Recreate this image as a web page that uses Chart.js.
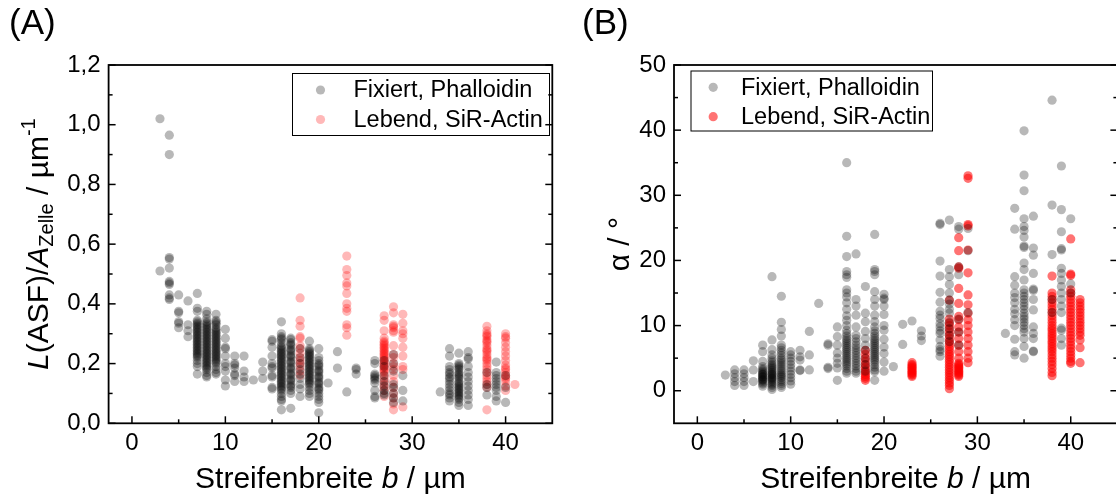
<!DOCTYPE html>
<html>
<head>
<meta charset="utf-8">
<script src="https://cdn.jsdelivr.net/npm/chart.js@4.4.1/dist/chart.umd.min.js"></script>
<style>
  html, body { margin: 0; padding: 0; background: #fff; overflow: hidden; width: 1116px; height: 497px; }
  canvas { position: absolute; top: 0; }
  #chartA { left: 0; }
  #chartB { left: 560px; }
</style>
</head>
<body>
<canvas id="chartA" width="560" height="497"></canvas>
<canvas id="chartB" width="562" height="497"></canvas>
<script>
// series names
const seriesLabels = ['Fixiert, Phalloidin', 'Lebend, SiR-Actin'];

// tick labels
const xTickVals = [0, 10, 20, 30, 40];
const yTickValsA = [0, 0.2, 0.4, 0.6, 0.8, 1.0, 1.2];
const yTickValsB = [0, 10, 20, 30, 40, 50];

// (A) fixed cells: stripe width columns and L(ASF)/A values per column
const fixA_x = [3, 4, 5, 6, 7, 8, 9, 10, 11, 12, 13, 14, 15, 16, 17, 18, 19, 20, 21, 22, 23, 24, 26, 27, 28, 29, 33, 34, 35, 36, 38, 39, 40];
const fixA_y = [
  [1.02, 0.51],
  [0.965, 0.90, 0.555, 0.55, 0.52, 0.475, 0.47, 0.465, 0.43, 0.42, 0.415],
  [0.43, 0.375, 0.37, 0.34, 0.335, 0.32],
  [0.41, 0.33, 0.31, 0.29],
  [0.435, 0.385, 0.375, 0.345, 0.34, 0.335, 0.33, 0.325, 0.32, 0.315, 0.31, 0.305, 0.30, 0.295, 0.29, 0.285, 0.28, 0.275, 0.27, 0.265, 0.26, 0.255, 0.25, 0.245, 0.24, 0.235, 0.23, 0.225, 0.22, 0.21, 0.20, 0.19, 0.165],
  [0.375, 0.365, 0.35, 0.34, 0.335, 0.33, 0.325, 0.32, 0.315, 0.31, 0.305, 0.30, 0.295, 0.29, 0.285, 0.28, 0.275, 0.27, 0.265, 0.26, 0.255, 0.25, 0.245, 0.24, 0.235, 0.23, 0.225, 0.22, 0.215, 0.21, 0.205, 0.20, 0.195, 0.19, 0.185, 0.18, 0.17, 0.16, 0.155],
  [0.365, 0.345, 0.34, 0.335, 0.33, 0.32, 0.315, 0.31, 0.305, 0.30, 0.295, 0.29, 0.285, 0.28, 0.275, 0.27, 0.265, 0.26, 0.255, 0.25, 0.245, 0.24, 0.235, 0.23, 0.225, 0.22, 0.215, 0.21, 0.205, 0.20, 0.19, 0.18, 0.17, 0.165],
  [0.315, 0.285, 0.255, 0.25, 0.225, 0.20, 0.19, 0.175, 0.145, 0.125],
  [0.225, 0.20, 0.195, 0.185, 0.165, 0.16, 0.14],
  [0.225, 0.175, 0.155, 0.14],
  [0.145],
  [0.205, 0.175, 0.15],
  [0.28, 0.275, 0.255, 0.225, 0.20, 0.19, 0.185, 0.16, 0.155, 0.12, 0.115],
  [0.34, 0.30, 0.29, 0.285, 0.28, 0.27, 0.26, 0.255, 0.25, 0.245, 0.24, 0.235, 0.23, 0.225, 0.22, 0.215, 0.21, 0.205, 0.20, 0.195, 0.19, 0.185, 0.18, 0.175, 0.17, 0.165, 0.16, 0.155, 0.15, 0.145, 0.14, 0.135, 0.13, 0.125, 0.12, 0.115, 0.11, 0.10, 0.09, 0.08, 0.075, 0.045],
  [0.285, 0.28, 0.27, 0.265, 0.26, 0.25, 0.245, 0.24, 0.23, 0.225, 0.22, 0.21, 0.205, 0.20, 0.19, 0.185, 0.18, 0.17, 0.165, 0.16, 0.15, 0.145, 0.14, 0.13, 0.125, 0.12, 0.11, 0.10, 0.05],
  [0.25, 0.22, 0.20, 0.18, 0.165, 0.15, 0.13, 0.115, 0.09],
  [0.275, 0.25, 0.245, 0.24, 0.235, 0.23, 0.225, 0.22, 0.215, 0.21, 0.205, 0.20, 0.195, 0.19, 0.185, 0.18, 0.175, 0.17, 0.165, 0.16, 0.155, 0.15, 0.145, 0.14, 0.135, 0.13, 0.12, 0.11, 0.10, 0.09],
  [0.25, 0.22, 0.21, 0.20, 0.195, 0.19, 0.18, 0.175, 0.17, 0.16, 0.155, 0.15, 0.14, 0.135, 0.13, 0.12, 0.115, 0.11, 0.10, 0.09, 0.08, 0.07, 0.035],
  [0.135],
  [0.24, 0.185],
  [0.105],
  [0.185, 0.18, 0.165],
  [0.21, 0.20, 0.165, 0.16, 0.155, 0.15, 0.145, 0.135, 0.11, 0.09, 0.085],
  [0.21, 0.19, 0.16, 0.14, 0.125, 0.11, 0.10, 0.095],
  [0.23, 0.20, 0.175, 0.13, 0.12, 0.10, 0.085, 0.07],
  [0.16, 0.11, 0.075],
  [0.105],
  [0.25, 0.225, 0.19, 0.18, 0.17, 0.165, 0.155, 0.15, 0.14, 0.13, 0.12, 0.11, 0.10, 0.095, 0.085, 0.075],
  [0.235, 0.20, 0.195, 0.19, 0.185, 0.18, 0.17, 0.165, 0.16, 0.155, 0.15, 0.14, 0.135, 0.13, 0.125, 0.12, 0.115, 0.11, 0.105, 0.10, 0.095, 0.09, 0.085, 0.08, 0.07, 0.06],
  [0.24, 0.22, 0.215, 0.19, 0.17, 0.155, 0.14, 0.125, 0.11, 0.095, 0.08, 0.06],
  [0.17, 0.13, 0.12, 0.095],
  [0.205, 0.17, 0.16, 0.15, 0.14, 0.13, 0.12, 0.11, 0.09, 0.075],
  [0.16, 0.12, 0.07]
];

// (A) living cells
const liveA_x = [18, 23, 27, 28, 29, 38, 40, 41];
const liveA_y = [
  [0.42, 0.345, 0.325, 0.29, 0.285, 0.26, 0.25, 0.235, 0.22, 0.21, 0.20, 0.19, 0.175, 0.16],
  [0.56, 0.515, 0.495, 0.47, 0.46, 0.435, 0.40, 0.385, 0.375, 0.33, 0.32, 0.295],
  [0.36, 0.345, 0.31, 0.285, 0.275, 0.27, 0.265, 0.26, 0.255, 0.25, 0.245, 0.24, 0.235, 0.23, 0.225, 0.22, 0.215, 0.21, 0.205, 0.20, 0.195, 0.19, 0.185, 0.18, 0.175, 0.17, 0.16, 0.15, 0.14, 0.13, 0.12, 0.11, 0.09],
  [0.39, 0.37, 0.33, 0.325, 0.32, 0.31, 0.305, 0.26, 0.23, 0.22, 0.20, 0.19, 0.18, 0.16, 0.14, 0.12, 0.10, 0.085, 0.065, 0.045],
  [0.365, 0.335, 0.31, 0.30, 0.285, 0.255, 0.225, 0.19, 0.18, 0.055],
  [0.325, 0.31, 0.30, 0.295, 0.29, 0.28, 0.275, 0.27, 0.26, 0.25, 0.245, 0.24, 0.23, 0.22, 0.215, 0.21, 0.20, 0.19, 0.18, 0.17, 0.16, 0.15, 0.14, 0.13, 0.12, 0.045],
  [0.30, 0.29, 0.285, 0.27, 0.255, 0.24, 0.225, 0.21, 0.195, 0.185, 0.18, 0.17, 0.16, 0.155, 0.15, 0.14, 0.125, 0.11],
  [0.13]
];

// (B) fixed cells: angle alpha in degrees
const fixB_x = [3, 4, 5, 6, 7, 8, 9, 10, 11, 12, 13, 14, 15, 16, 17, 18, 19, 20, 21, 22, 23, 24, 26, 27, 28, 29, 33, 34, 35, 36, 38, 39, 40];
const fixB_y = [
  [2.4],
  [3.2, 2.6, 2.0, 1.4, 0.8],
  [3.2, 2.6, 2.0, 1.4, 0.8],
  [4.6, 3.2, 1.4],
  [7.0, 6.0, 4.5, 3.7, 3.4, 3.2, 3.0, 2.8, 2.6, 2.5, 2.4, 2.2, 2.1, 2.0, 1.8, 1.7, 1.6, 1.4, 1.2, 1.0, 0.7],
  [17.5, 7.8, 6.3, 5.5, 5.0, 4.6, 4.3, 4.0, 3.8, 3.6, 3.4, 3.2, 3.0, 2.8, 2.6, 2.5, 2.4, 2.2, 2.0, 1.9, 1.8, 1.6, 1.4, 1.2, 1.0, 0.8, 0.5, 0.2],
  [14.5, 10.5, 9.4, 8.4, 7.0, 6.6, 6.2, 5.8, 5.4, 5.0, 4.7, 4.4, 4.1, 3.8, 3.5, 3.2, 2.9, 2.6, 2.4, 2.2, 2.0, 1.7, 1.4, 1.1, 0.8, 0.5],
  [6.0, 5.5, 5.0, 4.5, 4.0, 3.5, 3.0, 2.5, 2.0, 1.5, 1.0],
  [6.2, 5.2, 4.7, 3.2, 3.1],
  [9.1, 5.5, 3.2],
  [13.4],
  [7.2, 7.0, 3.6, 3.4],
  [9.8, 8.3, 7.0, 5.8, 5.0, 4.2, 3.5, 1.6],
  [35.0, 23.7, 20.6, 18.3, 17.8, 17.4, 15.5, 15.0, 14.4, 13.5, 12.5, 11.5, 10.8, 10.0, 9.3, 8.8, 8.4, 8.0, 7.7, 7.4, 7.1, 6.8, 6.5, 6.2, 5.9, 5.6, 5.3, 5.0, 4.7, 4.4, 4.1, 3.8, 3.4, 3.0, 2.7],
  [21.0, 14.0, 13.0, 11.6, 9.8, 8.5, 8.0, 7.5, 7.0, 6.6, 6.2, 5.8, 5.4, 5.0, 4.6, 4.2, 3.8, 3.4, 3.0, 2.7],
  [16.0, 11.9, 10.6, 9.1, 8.0, 7.0, 6.2, 5.0, 4.0, 3.0],
  [24.0, 18.6, 18.3, 17.8, 15.2, 14.0, 13.0, 11.6, 10.6, 9.8, 9.2, 8.8, 8.4, 8.0, 7.7, 7.4, 7.1, 6.8, 6.5, 6.2, 5.9, 5.6, 5.3, 5.0, 4.7, 4.4, 4.0, 3.6, 3.2, 2.9, 1.6],
  [14.8, 14.2, 14.0, 13.0, 11.7, 10.0, 9.3, 7.9, 6.7, 5.7, 4.4, 3.0],
  [3.7],
  [10.2, 7.1],
  [10.7],
  [9.2, 8.4, 7.7],
  [25.7, 25.5, 19.9, 17.6, 15.1, 13.6, 12.2, 11.6, 11.1, 10.3, 9.8, 9.2, 8.8, 7.8, 6.8, 6.3, 6.0, 5.3],
  [26.2, 18.6, 17.5, 16.3, 15.0, 13.9, 13.3, 12.5, 11.9, 10.5, 9.5, 8.5, 7.5],
  [25.2, 24.8, 19.0, 17.8, 11.0, 9.0, 7.0],
  [24.9, 21.5, 12.0],
  [8.8],
  [28.0, 24.8, 17.5, 16.2, 15.0, 14.3, 13.5, 12.5, 11.8, 10.9, 10.0, 7.9, 6.0, 5.5],
  [39.9, 33.1, 30.7, 26.4, 25.2, 24.6, 23.6, 22.2, 22.0, 19.6, 18.6, 17.0, 15.5, 15.0, 14.5, 14.0, 13.5, 13.0, 12.5, 11.9, 11.4, 11.0, 10.5, 10.0, 9.5, 9.0, 8.0, 6.8, 5.0],
  [26.8, 21.9, 20.8, 18.0, 15.6, 15.4, 14.0, 12.4, 9.8, 8.8, 8.0, 6.1, 6.0],
  [44.6, 28.5, 20.9, 14.0, 12.0],
  [34.5, 27.8, 24.4, 21.8, 21.6, 18.8, 18.0, 17.0, 16.0, 15.0, 14.0, 13.0, 12.0, 9.6, 9.3, 8.0, 7.0],
  [26.4, 16.4, 15.0]
];

// (B) living cells
const liveB_x = [18, 23, 27, 28, 29, 38, 40, 41];
const liveB_y = [
  [6.2, 5.6, 5.0, 4.5, 4.0, 3.6, 3.2, 2.8, 2.5, 2.2, 1.9, 1.6],
  [4.3, 4.0, 3.8, 3.6, 3.4, 3.2, 3.0, 2.8, 2.6, 2.4, 2.2],
  [13.9, 11.0, 10.4, 10.0, 9.5, 9.0, 8.5, 8.0, 7.6, 7.2, 6.8, 6.4, 6.0, 5.6, 5.2, 4.8, 4.4, 4.0, 3.6, 3.2, 2.8, 2.4, 2.0, 1.6, 1.2, 0.8, 0.3],
  [23.5, 21.5, 19.0, 18.8, 15.7, 13.4, 11.4, 10.9, 9.8, 9.0, 8.0, 7.0, 6.0, 5.0, 4.2, 4.0, 3.8, 3.6, 3.4, 3.2, 3.0, 2.8, 2.6, 2.4, 2.2],
  [33.0, 32.6, 25.5, 25.3, 21.6, 18.1, 14.7, 13.2, 11.9, 10.9, 10.0, 9.0, 8.0, 7.0, 6.0, 5.0, 4.3],
  [17.6, 15.0, 14.5, 14.0, 13.5, 13.0, 12.5, 12.0, 11.5, 11.0, 10.5, 10.0, 9.6, 9.2, 8.8, 8.4, 8.0, 7.6, 7.2, 6.8, 6.4, 6.0, 5.5, 5.0, 4.5, 4.0, 3.4, 2.8, 2.3],
  [23.3, 17.9, 17.7, 15.5, 15.0, 14.5, 14.0, 13.5, 13.0, 12.5, 12.0, 11.5, 11.0, 10.5, 10.0, 9.5, 9.0, 8.5, 8.0, 7.5, 7.0, 6.5, 6.0, 5.5, 5.0, 4.5, 4.2],
  [14.0, 13.5, 13.0, 12.5, 12.0, 11.5, 11.0, 10.5, 10.0, 9.5, 9.0, 8.5, 7.8, 6.6, 4.3]
];

const FONT = "'Liberation Sans', Arial, Helvetica, sans-serif";
const PT_R = 4.6;

// turn column lists into scatter points
const toPoints = (xs, ys) => xs.flatMap((x, i) => ys[i].map(y => ({ x: x, y: y })));

// draws a text made of several runs (italic / sub / sup), centred on 0
function drawRich(ctx, segs, size, x, y, rotate) {
  const fontOf = s => (s.it ? 'italic ' : '') + ((s.sub || s.sup) ? Math.round(size * 0.67) : size) + 'px ' + FONT;
  let total = 0;
  segs.forEach(s => { ctx.font = fontOf(s); s.w = ctx.measureText(s.t).width; total += s.w; });
  ctx.save();
  ctx.translate(x, y);
  if (rotate) ctx.rotate(-Math.PI / 2);
  ctx.textBaseline = 'alphabetic';
  ctx.textAlign = 'left';
  let cx = -total / 2;
  segs.forEach(s => {
    ctx.font = fontOf(s);
    const dy = s.sub ? 5 : (s.sup ? -13 : 0);
    ctx.fillText(s.t, cx, dy);
    cx += s.w;
  });
  ctx.restore();
}

// major + minor tick positions
function tickList(major, min, max) {
  const step = major[1] - major[0];
  const out = major.map(v => [v, 7]);
  [major[0] - step / 2].concat(major.map(v => v + step / 2)).forEach(v => {
    if (v > min + 1e-9 && v < max - 1e-9) out.push([v, 4]);
  });
  return out;
}

// frame, inward ticks, titles and boxed legend
const deco = {
  id: 'deco',
  afterDraw(chart, args, o) {
    const ctx = chart.ctx, a = chart.chartArea, xs = chart.scales.x, ys = chart.scales.y;
    ctx.save();
    ctx.strokeStyle = '#000';
    ctx.lineWidth = 1.8;
    ctx.strokeRect(a.left, a.top, a.right - a.left, a.bottom - a.top);
    ctx.lineWidth = 1.5;
    const line = (x1, y1, x2, y2) => { ctx.beginPath(); ctx.moveTo(x1, y1); ctx.lineTo(x2, y2); ctx.stroke(); };
    tickList(xTickVals, xs.min, xs.max).forEach(([v, len]) => {
      const px = xs.getPixelForValue(v);
      line(px, a.bottom, px, a.bottom - len);
    });
    tickList(o.yTicks, ys.min, ys.max).forEach(([v, len]) => {
      const py = ys.getPixelForValue(v);
      line(a.left, py, a.left + len, py);
      line(a.right, py, a.right - len, py);
    });

    ctx.fillStyle = '#000';
    // panel letter
    ctx.font = '35px ' + FONT;
    ctx.textBaseline = 'alphabetic';
    ctx.textAlign = 'left';
    ctx.fillText(o.panel, o.panelX, 34);

    // axis titles
    drawRich(ctx, [{ t: 'Streifenbreite ' }, { t: 'b', it: true }, { t: ' / µm' }], 30, (a.left + a.right) / 2, 488, false);
    drawRich(ctx, o.yTitle, 30, o.yTitleX, (a.top + a.bottom) / 2, true);

    // legend box
    const L = o.legend;
    ctx.lineWidth = 1;
    ctx.strokeRect(L.left + 0.5, L.top + 0.5, L.right - L.left, L.bottom - L.top);
    ctx.font = '23.5px ' + FONT;
    ctx.textBaseline = 'middle';
    chart.data.datasets.forEach((ds, i) => {
      ctx.fillStyle = ds.backgroundColor;
      ctx.beginPath();
      ctx.arc(L.mx, L.rows[i], PT_R, 0, Math.PI * 2);
      ctx.fill();
      ctx.fillStyle = '#000';
      ctx.fillText(ds.label, L.tx, L.rows[i] + 1);
    });
    ctx.restore();
  }
};

function makeChart(id, p) {
  const pointStyle = { pointBorderWidth: 0, pointRadius: PT_R, pointHoverRadius: PT_R, pointHoverBorderWidth: 0 };
  return new Chart(document.getElementById(id), {
    type: 'scatter',
    data: {
      datasets: [
        Object.assign({ label: seriesLabels[0], data: p.fixed, backgroundColor: 'rgba(0,0,0,0.28)', pointBackgroundColor: 'rgba(0,0,0,0.28)' }, pointStyle),
        Object.assign({ label: seriesLabels[1], data: p.live, backgroundColor: p.liveColor, pointBackgroundColor: p.liveColor }, pointStyle)
      ]
    },
    options: {
      responsive: false,
      animation: false,
      devicePixelRatio: 1,
      events: [],
      layout: { padding: { left: 0, top: 65, right: p.padRight, bottom: 0 } },
      plugins: {
        legend: { display: false },
        tooltip: { enabled: false },
        deco: p.deco
      },
      scales: {
        x: {
          type: 'linear',
          min: -2.5,
          max: 45,
          afterBuildTicks: s => { s.ticks = xTickVals.map(v => ({ value: v })); },
          afterFit: s => { s.height = 73.7; },
          grid: { display: false, drawTicks: false },
          border: { display: false },
          ticks: { color: '#000', font: { family: FONT, size: 24 }, padding: 6, autoSkip: false, maxRotation: 0, callback: v => String(v) }
        },
        y: {
          type: 'linear',
          min: p.yMin,
          max: p.yMax,
          afterBuildTicks: s => { s.ticks = p.deco.yTicks.map(v => ({ value: v })); },
          afterFit: s => { s.width = p.yWidth; },
          grid: { display: false, drawTicks: false },
          border: { display: false },
          ticks: { color: '#000', font: { family: FONT, size: 24 }, padding: 8, autoSkip: false, callback: p.yFmt }
        }
      }
    },
    plugins: [deco]
  });
}

makeChart('chartA', {
  fixed: toPoints(fixA_x, fixA_y),
  live: toPoints(liveA_x, liveA_y),
  liveColor: 'rgba(255,0,0,0.28)',
  yMin: 0, yMax: 1.2,
  yWidth: 108.6,
  padRight: 7.7,
  yFmt: v => v.toFixed(1).replace('.', ','),
  deco: {
    yTicks: yTickValsA,
    panel: '(A)', panelX: 9,
    yTitleX: 48,
    yTitle: [{ t: 'L', it: true }, { t: '(ASF)/' }, { t: 'A', it: true }, { t: 'Zelle', sub: true }, { t: ' / µm' }, { t: '-1', sup: true }],
    legend: { left: 292, top: 73, right: 549, bottom: 135, mx: 320.5, tx: 353.5, rows: [90, 119.5] }
  }
});

makeChart('chartB', {
  fixed: toPoints(fixB_x, fixB_y),
  live: toPoints(liveB_x, liveB_y),
  liveColor: 'rgba(255,0,0,0.55)',
  yMin: -5, yMax: 50,
  yWidth: 114,
  padRight: 4,
  yFmt: v => String(v),
  deco: {
    yTicks: yTickValsB,
    panel: '(B)', panelX: 22,
    yTitleX: 69,
    yTitle: [{ t: 'α / °' }],
    legend: { left: 130.5, top: 70.5, right: 372, bottom: 130.5, mx: 153.2, tx: 181, rows: [87.3, 116.7] }
  }
});
</script>
</body>
</html>
